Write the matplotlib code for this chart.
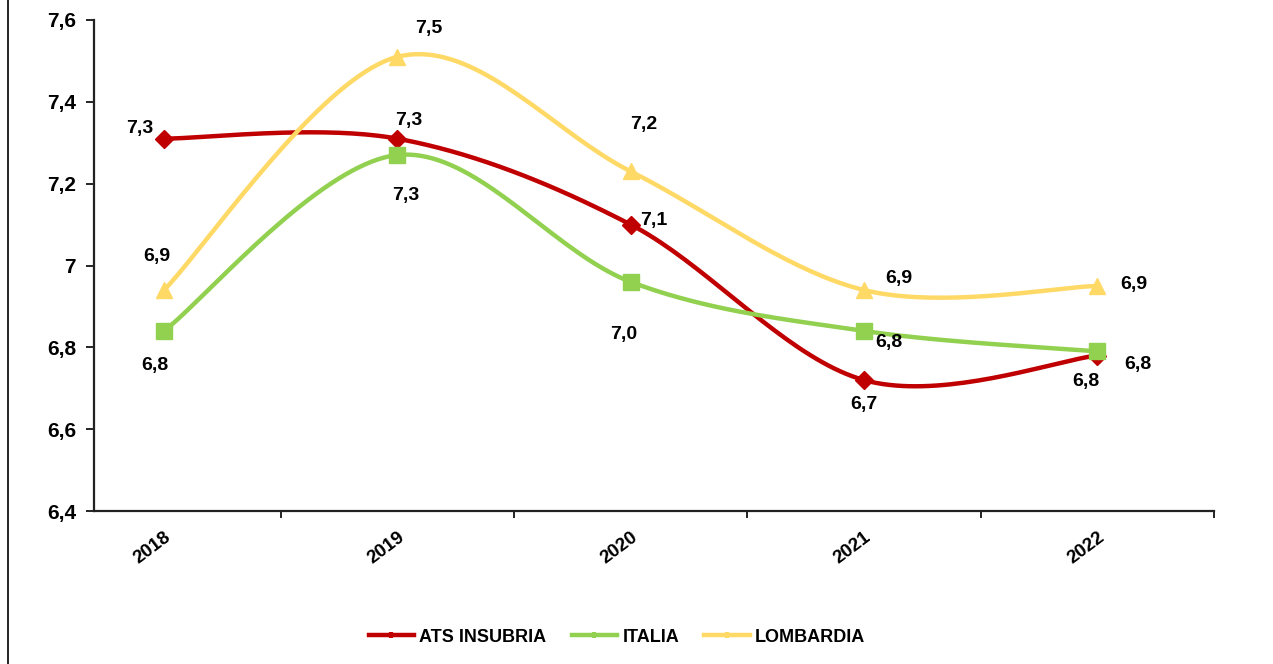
import numpy as np
import matplotlib
matplotlib.use("Agg")
import matplotlib.pyplot as plt
from matplotlib.lines import Line2D

# dati
anni = ["2018", "2019", "2020", "2021", "2022"]
ats_insubria = [7.31, 7.31, 7.10, 6.72, 6.78]
italia = [6.84, 7.27, 6.96, 6.84, 6.79]
lombardia = [6.94, 7.51, 7.23, 6.94, 6.95]
etichette_ats = ["7,3", "7,3", "7,1", "6,7", "6,8"]
etichette_ita = ["6,8", "7,3", "7,0", "6,8", "6,8"]
etichette_lom = ["6,9", "7,5", "7,2", "6,9", "6,9"]

plt.rcParams['font.family'] = ['Liberation Sans', 'DejaVu Sans']
plt.rcParams['font.weight'] = 'bold'


# curva smussata tipo Excel (Bezier con punti di controllo Catmull-Rom)
def smooth(x, y, n=40):
    x = np.asarray(x, float)
    y = np.asarray(y, float)
    px = np.concatenate(([x[0]], x, [x[-1]]))
    py = np.concatenate(([y[0]], y, [y[-1]]))
    xs, ys = [], []
    t = np.linspace(0, 1, n)
    for i in range(1, len(px) - 2):
        p0 = np.array([px[i], py[i]])
        p3 = np.array([px[i + 1], py[i + 1]])
        c1 = p0 + (p3 - np.array([px[i - 1], py[i - 1]])) / 6.0
        c2 = p3 - (np.array([px[i + 2], py[i + 2]]) - p0) / 6.0
        b = ((1 - t)**3)[:, None] * p0 + (3 * (1 - t)**2 * t)[:, None] * c1 \
            + (3 * (1 - t) * t**2)[:, None] * c2 + (t**3)[:, None] * p3
        xs.extend(b[:, 0])
        ys.extend(b[:, 1])
    return np.array(xs), np.array(ys)


fig = plt.figure(figsize=(12.73, 6.64), dpi=100)
ax = fig.add_axes([94 / 1273, 1 - 511 / 664, 1120 / 1273, 491 / 664])

x = np.arange(len(anni))
serie = [
    ("ATS INSUBRIA", ats_insubria, etichette_ats, "#C00000", "D", 9,
     [(-24, 10), (11, 18), (23, 4), (0, -24), (-11, -26)]),
    ("ITALIA", italia, etichette_ita, "#92D050", "s", 11,
     [(-9, -35), (8, -40), (-7, -53), (25, -12), (41, -13)]),
    ("LOMBARDIA", lombardia, etichette_lom, "#FFD966", "^", 11,
     [(-7, 34), (31, 28), (13, 47), (35, 12), (36, 1)]),
]

handles = []
for nome, valori, etich, col, mk, ms, offs in serie:
    sx, sy = smooth(x, valori)
    ax.plot(sx, sy, color=col, lw=3.2, solid_capstyle='round', zorder=3)
    ax.plot(x, valori, ls='none', marker=mk, ms=ms, color=col, zorder=4)
    for xi, yi, lab, (dx, dy) in zip(x, valori, etich, offs):
        ax.annotate(lab, (xi, yi), xytext=(dx * 0.72, dy * 0.72),
                    textcoords='offset points', ha='center', va='center',
                    fontsize=14, fontweight='bold', color='black')
    handles.append(Line2D([], [], color=col, lw=3.2, marker='|',
                          ms=5, mew=3, label=nome))

ax.set_xlim(-0.3, 4.5)
ax.set_ylim(6.4, 7.6)
ax.set_yticks([6.4, 6.6, 6.8, 7.0, 7.2, 7.4, 7.6])
ax.set_yticklabels(["6,4", "6,6", "6,8", "7", "7,2", "7,4", "7,6"],
                   fontsize=15, fontweight='bold')
ax.set_xticks(x)
ax.set_xticklabels(anni, rotation=37, fontsize=13.5, fontweight='bold',
                   ha='right', rotation_mode='anchor')
ax.set_xticks([0.5, 1.5, 2.5, 3.5, 4.5], minor=True)
ax.tick_params(axis='x', which='major', length=0, pad=13)
ax.tick_params(axis='x', which='minor', length=5, width=1.2)
ax.tick_params(axis='y', length=6, width=1.2, pad=7)
ax.spines['top'].set_visible(False)
ax.spines['right'].set_visible(False)
for s in ['left', 'bottom']:
    ax.spines[s].set_linewidth(1.6)
    ax.spines[s].set_color('#222222')

fig.legend(handles=handles, loc='center', bbox_to_anchor=(617 / 1273, 1 - 637 / 664),
           ncol=3, frameon=False, handlelength=2.5,
           columnspacing=1.4, handletextpad=0.3,
           prop={'weight': 'bold', 'size': 13})

# bordo sinistro
fig.add_artist(Line2D([8 / 1273, 8 / 1273], [0, 1], color='black', lw=1.2))

fig.savefig("out.png", dpi=100)
